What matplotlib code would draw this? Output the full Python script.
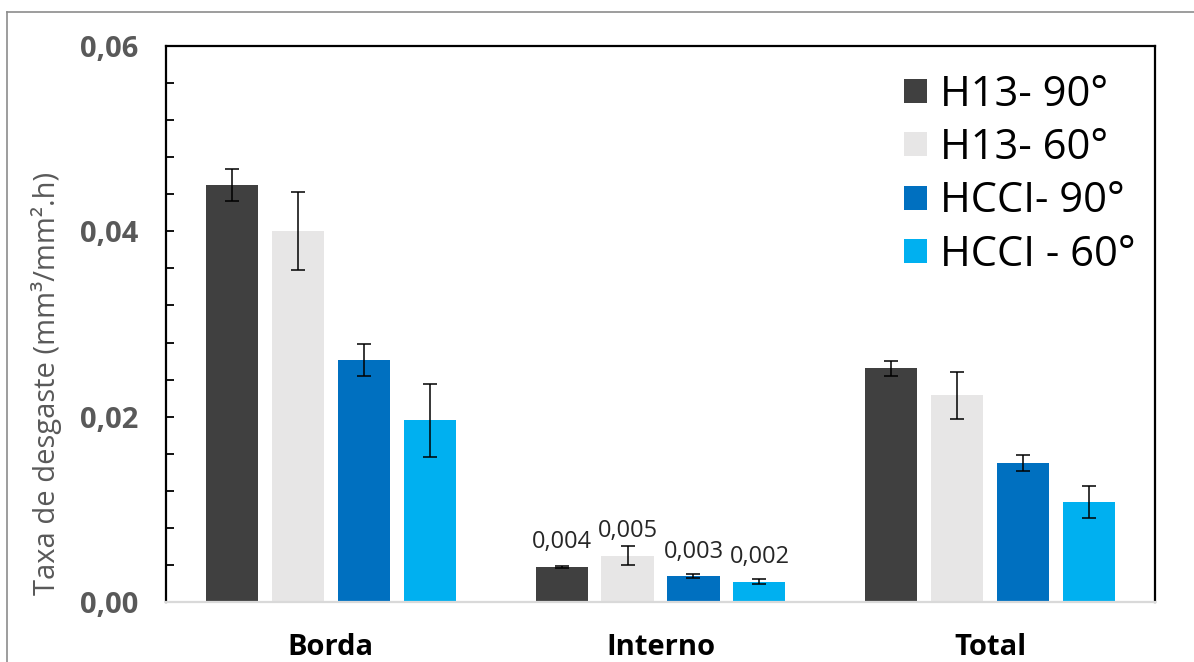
import matplotlib
matplotlib.use("Agg")
import matplotlib.pyplot as plt
from matplotlib.lines import Line2D
from matplotlib.ticker import MultipleLocator, FuncFormatter
import numpy as np

# Wear rate data (mm³/mm².h) per region, one list per tool / angle
categories = ["Borda", "Interno", "Total"]
series_names = ["H13- 90°", "H13- 60°", "HCCI- 90°", "HCCI - 60°"]

h13_90 = [0.0450, 0.0038, 0.0252]
h13_60 = [0.0400, 0.0050, 0.0223]
hcci_90 = [0.0261, 0.0028, 0.0150]
hcci_60 = [0.0196, 0.0022, 0.0108]

h13_90_err = [0.0017, 0.0001, 0.0008]
h13_60_err = [0.0042, 0.0010, 0.0025]
hcci_90_err = [0.0017, 0.0002, 0.0009]
hcci_60_err = [0.0039, 0.0003, 0.0017]

labelled_category = "Interno"
y_ticks = [0.00, 0.02, 0.04, 0.06]

values = [h13_90, h13_60, hcci_90, hcci_60]
errors = [h13_90_err, h13_60_err, hcci_90_err, hcci_60_err]
colors = ["#404040", "#E7E6E6", "#0070C0", "#00B0F0"]

plt.rcParams["font.family"] = ["Open Sans", "DejaVu Sans"]

W, H = 1194, 662
fig = plt.figure(figsize=(W / 100, H / 100), dpi=100)
ax = fig.add_axes([166 / W, 1 - 602 / H, (1155 - 166) / W, (602 - 46) / H])

x = np.arange(len(categories))
slot = 0.2
bar_w = 0.158
offsets = (np.arange(len(values)) - (len(values) - 1) / 2) * slot

for vals, errs, col, name, off in zip(values, errors, colors, series_names, offsets):
    ax.bar(x + off, vals, width=bar_w, color=col, label=name, zorder=2,
           yerr=errs, capsize=4.8,
           error_kw=dict(ecolor="black", elinewidth=1.1, capthick=1.1, zorder=3))
    i = categories.index(labelled_category)
    txt = f"{vals[i]:.3f}".replace(".", ",")
    ax.annotate(txt, (x[i] + off, vals[i]), xytext=(0, 9), textcoords="offset points",
                ha="center", va="bottom", fontsize=17, color="#262626", zorder=4)

ax.set_xlim(-0.5, len(categories) - 0.5)
ax.set_ylim(0, 0.06)
ax.set_xticks(x)
ax.set_xticklabels(categories, fontsize=21, fontweight="bold", color="black")
ax.tick_params(axis="x", length=0, pad=22)

ax.set_yticks(y_ticks)
ax.yaxis.set_minor_locator(MultipleLocator(0.004))
ax.yaxis.set_major_formatter(FuncFormatter(lambda v, p: f"{v:.2f}".replace(".", ",")))
ax.tick_params(axis="y", which="both", direction="in", length=6, width=1.3, color="black",
               labelsize=21, labelcolor="#595959", pad=20)
for lab in ax.get_yticklabels():
    lab.set_fontweight("bold")

for side in ("left", "top", "right"):
    ax.spines[side].set_color("black")
    ax.spines[side].set_linewidth(1.6)
ax.spines["bottom"].set_color("#D9D9D9")
ax.spines["bottom"].set_linewidth(1.6)

fig.text(47 / W, 1 - 383 / H, "Taxa de desgaste (mm³/mm².h)", rotation=90,
         ha="center", va="center", fontsize=21, color="#595959")

leg = ax.legend(loc="upper left", bbox_to_anchor=(904 / W, 1 - 74 / H),
                bbox_transform=fig.transFigure, frameon=False, fontsize=30,
                handlelength=0.55, handleheight=0.51, handletextpad=0.32,
                labelspacing=0.27, borderpad=0, borderaxespad=0)

# outer chart border (clipped at the right and bottom edges)
fig.add_artist(Line2D([7 / W, 7 / W], [0, 1 - 12 / H], transform=fig.transFigure,
                      color="#8C8C8C", lw=1.2))
fig.add_artist(Line2D([7 / W, 1], [1 - 12 / H, 1 - 12 / H], transform=fig.transFigure,
                      color="#8C8C8C", lw=1.2))

fig.savefig("out.png", dpi=100, facecolor="white")
